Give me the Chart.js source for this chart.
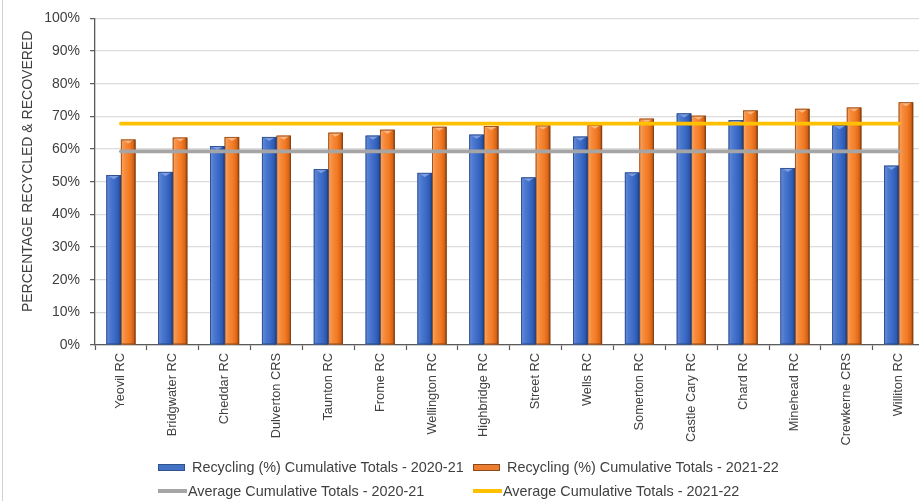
<!DOCTYPE html>
<html>
<head>
<meta charset="utf-8">
<script src="https://cdn.jsdelivr.net/npm/chart.js@4.4.1/dist/chart.umd.min.js"></script>
<style>
    html, body { margin: 0; padding: 0; background: #fff; overflow: hidden; }
    #wrap { position: relative; width: 930px; height: 501px; }
    #wrap canvas { position: absolute; left: 0; top: 0; }
    #edge { position: absolute; left: 2px; top: 0; height: 501px; border-left: 1px solid #d0d0d0; }
    #legend { position: absolute; left: 0; top: 0; width: 930px; height: 501px;
              font-family: "Liberation Sans", Arial, sans-serif; font-size: 14.4px; color: #404040; }
    .item { position: absolute; display: flex; align-items: center; white-space: nowrap; height: 18px; }
    .box { width: 27px; height: 7px; margin-right: 7px; box-sizing: border-box; }
    .line { width: 29px; height: 3.5px; margin-right: 1px; }
</style>
</head>
<body>
<div id="wrap">
    <canvas id="grafico" width="926" height="450"></canvas>
    <div id="edge"></div>
    <div id="legend"></div>
</div>
<script>
// centros de reciclagem
const centros = ['Yeovil RC', 'Bridgwater RC', 'Cheddar RC', 'Dulverton CRS', 'Taunton RC', 'Frome RC',
    'Wellington RC', 'Highbridge RC', 'Street RC', 'Wells RC', 'Somerton RC', 'Castle Cary RC',
    'Chard RC', 'Minehead RC', 'Crewkerne CRS', 'Williton RC'];

// % reciclado por ano
const recic2021 = [52.0, 53.0, 60.9, 63.7, 53.8, 64.1, 52.7, 64.4, 51.3, 63.8, 52.8, 70.9, 68.8, 54.2, 67.3, 54.9];
const recic2122 = [62.9, 63.5, 63.7, 64.1, 65.0, 65.9, 66.8, 67.0, 67.2, 67.4, 69.3, 70.2, 71.8, 72.3, 72.7, 74.3];

// medias acumuladas
const media2021 = 59.3;
const media2122 = 67.8;

const ticksY = [0, 10, 20, 30, 40, 50, 60, 70, 80, 90, 100];
const tituloY = 'PERCENTAGE RECYCLED & RECOVERED';

Chart.defaults.font.family = '"Liberation Sans", Arial, sans-serif';
Chart.defaults.color = '#404040';

// degradê das barras (efeito cilindro)
const sombras = {
    0: { stops: ['#6a8fdb', '#4d79cf', '#3a69c6', '#2d59ae', '#1c3a78'], topo: '#7d9ee2', borda: '#24457f' },
    1: { stops: ['#f9a96a', '#f68d40', '#f37a22', '#d5651a', '#7e3b0e'], topo: '#fbb57e', borda: '#8a4312' }
};

const sombraBarras = {
    id: 'sombraBarras',
    afterDatasetDraw(chart, args) {
        const s = sombras[args.index];
        if (!s) return;
        const ctx = chart.ctx;
        ctx.save();
        args.meta.data.forEach(function (el) {
            const p = el.getProps(['x', 'y', 'base', 'width'], true);
            const esq = p.x - p.width / 2;
            const alt = p.base - p.y;
            const g = ctx.createLinearGradient(esq, 0, esq + p.width, 0);
            g.addColorStop(0, s.stops[0]);
            g.addColorStop(0.25, s.stops[1]);
            g.addColorStop(0.6, s.stops[2]);
            g.addColorStop(0.85, s.stops[3]);
            g.addColorStop(1, s.stops[4]);
            ctx.fillStyle = g;
            ctx.fillRect(esq, p.y, p.width, alt);
            // chanfro no topo
            ctx.beginPath();
            ctx.moveTo(esq + 1, p.y);
            ctx.lineTo(esq + p.width - 1, p.y);
            ctx.lineTo(p.x, p.y + 4);
            ctx.closePath();
            ctx.fillStyle = s.topo;
            ctx.fill();
            ctx.strokeStyle = s.borda;
            ctx.lineWidth = 0.8;
            ctx.strokeRect(esq + 0.4, p.y + 0.4, p.width - 0.8, alt - 0.8);
        });
        ctx.restore();
    }
};

// titulo do eixo Y, um pouco acima do centro da area
const tituloEixoY = {
    id: 'tituloEixoY',
    afterDraw(chart) {
        const ctx = chart.ctx;
        ctx.save();
        ctx.translate(28.5, chart.chartArea.top + 153);
        ctx.rotate(-Math.PI / 2);
        ctx.font = '14px "Liberation Sans", Arial, sans-serif';
        ctx.fillStyle = '#404040';
        ctx.textAlign = 'center';
        ctx.textBaseline = 'middle';
        ctx.fillText(tituloY, 0, 0);
        ctx.restore();
    }
};

const ctx = document.getElementById('grafico').getContext('2d');
const grafico = new Chart(ctx, {
    type: 'bar',
    data: {
        labels: centros,
        datasets: [{
            label: 'Recycling (%) Cumulative Totals - 2020-21',
            data: recic2021,
            backgroundColor: '#4472c4',
            borderColor: '#2f528f',
            order: 2
        }, {
            label: 'Recycling (%) Cumulative Totals - 2021-22',
            data: recic2122,
            backgroundColor: '#ed7d31',
            borderColor: '#8a4a1a',
            order: 2
        }, {
            type: 'line',
            label: 'Average Cumulative Totals - 2020-21',
            data: centros.map(() => media2021),
            borderColor: '#a5a5a5',
            backgroundColor: '#a5a5a5',
            borderWidth: 3.8,
            borderCapStyle: 'round',
            pointRadius: 0,
            order: 1
        }, {
            type: 'line',
            label: 'Average Cumulative Totals - 2021-22',
            data: centros.map(() => media2122),
            borderColor: '#ffc000',
            backgroundColor: '#ffc000',
            borderWidth: 3.8,
            borderCapStyle: 'round',
            pointRadius: 0,
            order: 1
        }]
    },
    options: {
        responsive: false,
        animation: false,
        layout: { padding: { left: 0, right: 1.4, top: 18, bottom: 0 } },
        datasets: {
            bar: { categoryPercentage: 0.56, barPercentage: 1.0 }
        },
        plugins: {
            legend: { display: false },
            tooltip: { enabled: false }
        },
        scales: {
            x: {
                offset: true,
                grid: { display: true, drawOnChartArea: false, tickLength: 5, tickColor: '#595959', tickWidth: 1.2 },
                border: { color: '#595959', width: 1.3 },
                ticks: { autoSkip: false, maxRotation: 90, minRotation: 90, padding: 3, font: { size: 12.8 }, color: '#404040' },
                afterFit: function (scale) { scale.height = 105; }
            },
            y: {
                min: 0,
                max: 100,
                afterBuildTicks: function (scale) { scale.ticks = ticksY.map(v => ({ value: v })); },
                grid: { color: '#dcdcdc', lineWidth: 1.3, tickLength: 5, tickColor: '#595959', tickWidth: 1.2 },
                border: { color: '#595959', width: 1.3 },
                ticks: {
                    padding: 10,
                    font: { size: 14 },
                    color: '#404040',
                    callback: function (v) { return v + '%'; }
                },
                title: { display: false },
                afterFit: function (scale) { scale.width = 95; }
            }
        }
    },
    plugins: [sombraBarras, tituloEixoY]
});

// legenda em grade de duas colunas
const legenda = document.getElementById('legend');
const posicoes = [[158, 458], [473, 458], [158, 482], [473, 482]];
grafico.data.datasets.forEach(function (ds, i) {
    const item = document.createElement('div');
    item.className = 'item';
    item.style.left = posicoes[i][0] + 'px';
    item.style.top = posicoes[i][1] + 'px';
    const marca = document.createElement('span');
    if (ds.type === 'line') {
        marca.className = 'line';
        marca.style.background = ds.borderColor;
    } else {
        marca.className = 'box';
        marca.style.background = ds.backgroundColor;
        marca.style.border = '1px solid ' + ds.borderColor;
    }
    const txt = document.createElement('span');
    txt.textContent = ds.label;
    item.appendChild(marca);
    item.appendChild(txt);
    legenda.appendChild(item);
});
</script>
</body>
</html>
